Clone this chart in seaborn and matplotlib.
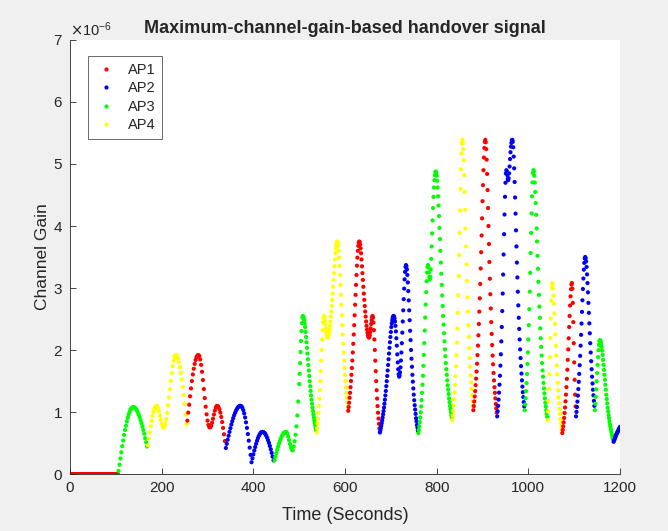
import numpy as np
import pandas as pd
import seaborn as sns
import matplotlib
matplotlib.use("Agg")
import matplotlib.pyplot as plt
from matplotlib.lines import Line2D
from matplotlib.ticker import ScalarFormatter

# channel gain in units of 1e-6, one sample every 2 s from 0 s to 498 s
gain_early = [0.0] * 53 + [
    0.05, 0.15, 0.25, 0.35, 0.45, 0.54, 0.63, 0.71, 0.78, 0.85, 0.91, 0.96, 1.00, 1.04, 1.06, 1.075, 1.08,
    1.077, 1.067, 1.049, 1.025, 0.995, 0.958, 0.916, 0.870, 0.819, 0.766, 0.709, 0.650, 0.578, 0.512, 0.444,
    0.464, 0.571, 0.674, 0.770, 0.858, 0.934, 0.999, 1.048, 1.081, 1.098,
    1.096, 1.067, 1.013, 0.943, 0.871, 0.808, 0.765, 0.75,
    0.766, 0.812, 0.886, 0.985, 1.106, 1.233, 1.369, 1.502, 1.628, 1.740, 1.824, 1.885, 1.916,
    1.918, 1.898, 1.859, 1.800, 1.724, 1.632, 1.524, 1.405, 1.273, 1.132, 0.96, 0.80,
    0.86, 0.99, 1.118, 1.254, 1.381, 1.499, 1.606, 1.698, 1.776, 1.839, 1.884, 1.911, 1.92,
    1.902, 1.848, 1.761, 1.649, 1.516, 1.371, 1.225, 1.086, 0.963, 0.861, 0.791, 0.755,
    0.753, 0.779, 0.828, 0.891, 0.959, 1.022, 1.071, 1.097,
    1.098, 1.079, 1.043, 0.990, 0.920, 0.838, 0.744, 0.641, 0.532, 0.42,
    0.487, 0.553, 0.617, 0.680, 0.740, 0.798, 0.851, 0.901, 0.946, 0.985, 1.020, 1.048, 1.071, 1.087, 1.097, 1.10,
    1.092, 1.069, 1.031, 0.978, 0.912, 0.833, 0.744, 0.645, 0.538, 0.426, 0.309, 0.19,
    0.254, 0.317, 0.378, 0.435, 0.488, 0.536, 0.579, 0.614, 0.643, 0.663, 0.676, 0.68,
    0.676, 0.665, 0.646, 0.619, 0.586, 0.547, 0.502, 0.453, 0.399, 0.341, 0.282, 0.221,
    0.219, 0.278, 0.336, 0.391, 0.443, 0.492, 0.536, 0.576, 0.609, 0.637, 0.658, 0.672, 0.679,
    0.677, 0.652, 0.605, 0.546, 0.484, 0.430, 0.393, 0.38,
    0.445, 0.528, 0.633, 0.769, 0.944, 1.169,
]

# channel gain in units of 1e-6, one sample every 1 s from 500 s to 1200 s
gain_late = [
    1.451, 1.615, 1.788, 1.968, 2.145, 2.305, 2.435, 2.52, 2.55,
    2.54, 2.52, 2.48, 2.43, 2.37, 2.29, 2.21, 2.125, 2.035, 1.943, 1.851, 1.759, 1.669, 1.581, 1.497,
    1.417, 1.340, 1.267, 1.198, 1.133, 1.072, 1.015, 0.961, 0.911, 0.864, 0.819, 0.778, 0.739, 0.703, 0.67,
    0.736, 0.810, 0.894, 0.989, 1.096, 1.217, 1.351, 1.498, 1.659, 1.828, 2.001, 2.170, 2.320, 2.443, 2.522, 2.55,
    2.53, 2.48, 2.42, 2.35, 2.29, 2.24, 2.21, 2.20, 2.21, 2.24, 2.28, 2.33, 2.39, 2.46, 2.54,
    2.62, 2.71, 2.81, 2.91, 3.02, 3.13, 3.24, 3.35, 3.46, 3.56, 3.64, 3.70, 3.74, 3.75,
    3.73, 3.68, 3.60, 3.49, 3.36, 3.21, 3.05, 2.89, 2.73, 2.56, 2.40, 2.25,
    2.10, 1.96, 1.83, 1.71, 1.60, 1.50, 1.40, 1.31, 1.23, 1.15, 1.08, 1.02,
    1.08, 1.15, 1.23, 1.31, 1.40, 1.50, 1.60, 1.71, 1.83, 1.96, 2.10, 2.25,
    2.40, 2.56, 2.73, 2.89, 3.05, 3.21, 3.36, 3.49, 3.60, 3.68, 3.73, 3.75,
    3.74, 3.70, 3.64, 3.56, 3.46, 3.35, 3.24, 3.13, 3.02, 2.91, 2.81, 2.71, 2.62, 2.54, 2.46,
    2.39, 2.33, 2.28, 2.24, 2.21, 2.20, 2.21, 2.24, 2.29, 2.35, 2.42, 2.48, 2.53, 2.55,
    2.522, 2.443, 2.320, 2.170, 2.001, 1.828, 1.659, 1.498, 1.351, 1.217, 1.096, 0.989, 0.894, 0.810, 0.736, 0.67,
    0.703, 0.739, 0.778, 0.819, 0.864, 0.911, 0.961, 1.015, 1.072, 1.133, 1.198, 1.267, 1.340, 1.417, 1.497,
    1.581, 1.669, 1.759, 1.851, 1.943, 2.035, 2.125, 2.21, 2.29, 2.37, 2.43, 2.48, 2.52, 2.54, 2.55,
    2.54, 2.51, 2.46, 2.39, 2.30, 2.19, 2.07, 1.93, 1.80, 1.69, 1.61, 1.57,
    1.59, 1.64, 1.72, 1.83, 1.96, 2.11, 2.28, 2.46, 2.64, 2.82, 2.99, 3.14, 3.26, 3.34, 3.37,
    3.35, 3.30, 3.21, 3.09, 2.95, 2.80, 2.64, 2.48, 2.31, 2.16, 2.00, 1.86, 1.73, 1.60,
    1.49, 1.38, 1.28, 1.19, 1.11, 1.04, 0.97, 0.90, 0.85, 0.79, 0.75, 0.70, 0.66,
    0.713, 0.773, 0.839, 0.913, 0.996, 1.089, 1.193, 1.309, 1.440, 1.584, 1.745,
    1.921, 2.111, 2.314, 2.524, 2.733, 2.933, 3.109, 3.249, 3.339, 3.37,
    3.33, 3.25, 3.18, 3.14, 3.18, 3.30, 3.47, 3.67, 3.88, 4.09, 4.29, 4.47, 4.62, 4.74, 4.82, 4.87, 4.88,
    4.86, 4.81, 4.73, 4.62, 4.48, 4.33, 4.16, 3.97, 3.79, 3.60, 3.41, 3.23, 3.05, 2.88, 2.71, 2.55, 2.41, 2.27,
    2.14, 2.01, 1.90, 1.79, 1.69, 1.60, 1.51, 1.43, 1.36, 1.29, 1.22, 1.16, 1.10, 1.05, 1.00, 0.95, 0.91, 0.87,
    0.940, 1.019, 1.106, 1.204, 1.314, 1.438, 1.579, 1.737, 1.916, 2.118, 2.346,
    2.600, 2.884, 3.195, 3.532, 3.889, 4.250, 4.600, 4.914, 5.168, 5.333, 5.39,
    5.35, 5.24, 5.06, 4.82, 4.55, 4.26, 3.96, 3.67, 3.38, 3.11, 2.85, 2.62,
    2.40, 2.21, 2.03, 1.87, 1.73, 1.59, 1.48, 1.37, 1.27, 1.18, 1.10, 1.03,
    1.097, 1.170, 1.250, 1.337, 1.433, 1.538, 1.653, 1.779, 1.918, 2.071, 2.237, 2.420, 2.619,
    2.834, 3.066, 3.315, 3.577, 3.847, 4.124, 4.400, 4.659, 4.900, 5.104, 5.258, 5.356, 5.39,
    5.35, 5.24, 5.07, 4.84, 4.58, 4.29, 4.00, 3.71, 3.42, 3.15, 2.90, 2.67, 2.45,
    2.26, 2.08, 1.91, 1.77, 1.63, 1.51, 1.40, 1.31, 1.22, 1.13, 1.06, 0.99, 0.93,
    1.010, 1.099, 1.200, 1.313, 1.441, 1.585, 1.748, 1.931, 2.139, 2.371,
    2.629, 2.911, 3.217, 3.540, 3.868, 4.185, 4.471, 4.698, 4.848, 4.90,
    4.88, 4.82, 4.76, 4.74, 4.77, 4.85, 4.96, 5.08, 5.19, 5.28, 5.34, 5.38, 5.39,
    5.36, 5.27, 5.12, 4.93, 4.71, 4.46, 4.20, 3.93, 3.67, 3.41, 3.17, 2.94, 2.72, 2.52,
    2.34, 2.17, 2.01, 1.87, 1.74, 1.62, 1.51, 1.41, 1.32, 1.24, 1.16, 1.09, 1.03,
    1.121, 1.223, 1.337, 1.467, 1.612, 1.776, 1.961, 2.169, 2.401, 2.659,
    2.941, 3.245, 3.564, 3.889, 4.202, 4.479, 4.703, 4.850, 4.90,
    4.88, 4.81, 4.70, 4.55, 4.37, 4.18, 3.96, 3.75, 3.52, 3.31, 3.10, 2.89, 2.70, 2.52, 2.35, 2.19,
    2.05, 1.91, 1.79, 1.67, 1.57, 1.47, 1.38, 1.30, 1.22, 1.15, 1.09, 1.03, 0.97, 0.92, 0.87,
    1.008, 1.174, 1.373, 1.609, 1.884, 2.191, 2.508, 2.795, 3.004, 3.08,
    3.06, 2.99, 2.88, 2.75, 2.59, 2.42, 2.25, 2.07, 1.91, 1.75, 1.61,
    1.47, 1.35, 1.24, 1.14, 1.05, 0.97, 0.89, 0.82, 0.76, 0.71, 0.66,
    0.712, 0.770, 0.834, 0.905, 0.985, 1.073, 1.172, 1.281, 1.402, 1.535, 1.682,
    1.841, 2.010, 2.189, 2.371, 2.550, 2.718, 2.865, 2.981, 3.055, 3.08,
    2.99, 2.76, 2.45, 2.11, 1.80, 1.52, 1.28, 1.09, 0.93,
    1.002, 1.081, 1.168, 1.264, 1.370, 1.487, 1.615, 1.755, 1.906, 2.070,
    2.245, 2.427, 2.615, 2.802, 2.984, 3.153, 3.296, 3.405, 3.476, 3.50,
    3.48, 3.43, 3.34, 3.22, 3.08, 2.93, 2.76, 2.60, 2.43, 2.27, 2.11,
    1.96, 1.82, 1.69, 1.57, 1.46, 1.36, 1.27, 1.18, 1.10, 1.03,
    1.133, 1.246, 1.367, 1.496, 1.629, 1.761, 1.886, 1.997, 2.085, 2.141, 2.16,
    2.15, 2.13, 2.09, 2.05, 1.99, 1.92, 1.84, 1.76, 1.68, 1.60, 1.52, 1.44, 1.36, 1.28, 1.21,
    1.14, 1.07, 1.01, 0.95, 0.90, 0.85, 0.80, 0.76, 0.72, 0.68, 0.64, 0.61, 0.58, 0.55, 0.52,
    0.54, 0.56, 0.58, 0.60, 0.62, 0.64, 0.655, 0.67, 0.685, 0.70, 0.715, 0.73, 0.745, 0.76,
]

# handover instants (s) and the AP that serves from then on
switch_times = [0, 105, 169, 255, 340, 445, 538, 607, 676, 760, 834, 880, 932, 992, 1042, 1074, 1104, 1145, 1186]
switch_aps = ['AP1', 'AP3', 'AP4', 'AP1', 'AP2', 'AP3', 'AP4', 'AP1', 'AP2', 'AP3',
              'AP4', 'AP1', 'AP2', 'AP3', 'AP4', 'AP1', 'AP2', 'AP3', 'AP2']

ap_names = ['AP1', 'AP2', 'AP3', 'AP4']
ap_colors = ['#ff0000', '#0000ff', '#00ff00', '#ffff00']

# build the sample table
t_early = 2 * np.arange(len(gain_early))
t_late = 500 + np.arange(len(gain_late))
time_s = np.concatenate([t_early, t_late])
gain = np.concatenate([gain_early, gain_late]) * 1e-6
idx = np.searchsorted(switch_times, time_s, side='right') - 1
df = pd.DataFrame({'time': time_s, 'gain': gain, 'ap': np.array(switch_aps)[idx]})

sns.set_style('ticks')
plt.rcParams['font.family'] = ['Liberation Sans', 'DejaVu Sans']

fig = plt.figure(figsize=(6.68, 5.31), dpi=100, facecolor='#f0f0f0')
ax = fig.add_axes([0.1048, 0.1073, 0.8234, 0.8174])
ax.set_facecolor('white')

palette = dict(zip(ap_names, ap_colors))
sns.scatterplot(data=df, x='time', y='gain', hue='ap', hue_order=ap_names,
                palette=palette, s=9, linewidth=0, legend=False, ax=ax)

ax.set_xlim(0, 1200)
ax.set_ylim(0, 7e-6)
ax.set_xticks(np.arange(0, 1201, 200))
ax.set_yticks(np.arange(0, 7.01e-6, 1e-6))
fmt = ScalarFormatter(useMathText=True)
fmt.set_powerlimits((0, 0))
ax.yaxis.set_major_formatter(fmt)
ax.yaxis.get_offset_text().set_fontsize(10.5)

ax.tick_params(direction='in', length=4, width=0.6, labelsize=11, pad=5, colors='#262626')
for side in ['top', 'right']:
    ax.spines[side].set_visible(False)
for side in ['left', 'bottom']:
    ax.spines[side].set_color('#262626')
    ax.spines[side].set_linewidth(0.6)

ax.set_xlabel('Time (Seconds)', fontsize=13, labelpad=9)
ax.set_ylabel('Channel Gain', fontsize=12.5, labelpad=2)
ax.set_title('Maximum-channel-gain-based handover signal', fontsize=13, fontweight='bold', pad=5)

handles = [Line2D([], [], linestyle='none', marker='.', markersize=4, color=c) for c in ap_colors]
leg = ax.legend(handles, ap_names, loc='upper left', bbox_to_anchor=(0.033, 0.962),
                fontsize=10.5, frameon=True, fancybox=False, borderaxespad=0,
                handlelength=1.5, handletextpad=0.8, labelspacing=0.3, borderpad=0.45)
leg.get_frame().set_edgecolor('#262626')
leg.get_frame().set_linewidth(0.6)

fig.savefig('out.png', dpi=100, facecolor=fig.get_facecolor())
